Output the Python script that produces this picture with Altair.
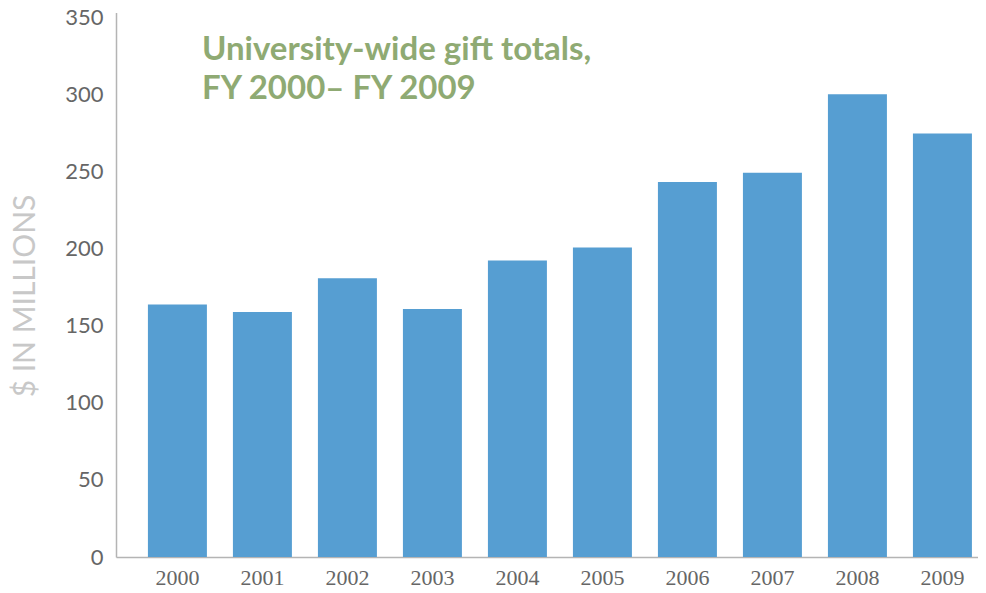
import altair as alt
import pandas as pd

years = ["2000", "2001", "2002", "2003", "2004", "2005", "2006", "2007", "2008", "2009"]
gifts = [164, 159, 181, 161, 192.5, 201, 243.5, 249.5, 300.5, 275]
title_lines = ["University-wide gift totals,", "FY 2000\u2013 FY 2009"]
y_ticks = [0, 50, 100, 150, 200, 250, 300, 350]

df = pd.DataFrame({"year": years, "gift": gifts})

chart = alt.Chart(df).mark_bar(color="#569ed2").encode(
    x=alt.X("year:O", title=None,
            scale=alt.Scale(paddingInner=0.306, paddingOuter=0.2235, align=0.84),
            axis=alt.Axis(labelAngle=0, labelFont="Liberation Serif", labelFontSize=22,
                          labelColor="#666666", ticks=False, labelPadding=10,
                          domainColor="#b4b4b4", domainWidth=1.5)),
    y=alt.Y("gift:Q", title="$ IN MILLIONS",
            scale=alt.Scale(domain=[0, 353.5], nice=False),
            axis=alt.Axis(values=y_ticks, grid=False, ticks=False, labelFont="Lato",
                          labelFontSize=22, labelColor="#666666", labelPadding=13,
                          domainColor="#b4b4b4", domainWidth=1.5,
                          titleFont="Lato", titleFontSize=30, titleFontWeight="normal",
                          titleColor="#c8c8c8", titleX=-91, titleY=283,
                          titleAlign="center", titleBaseline="middle", titleAngle=270)),
).properties(
    width=862,
    height=544.5,
    padding={"left": 108, "top": 4.5, "right": 0, "bottom": 34},
    autosize=alt.AutoSizeParams(type="none"),
    title=alt.TitleParams(text=title_lines, anchor="start", dx=86, dy=125.5, offset=0,
                          baseline="alphabetic", font="Lato", fontSize=33,
                          fontWeight="bold", color="#8faa73", lineHeight=39,
                          frame="group"),
).configure_view(stroke=None)

chart.save("out.html", embed_options={"renderer": "svg", "actions": False})
